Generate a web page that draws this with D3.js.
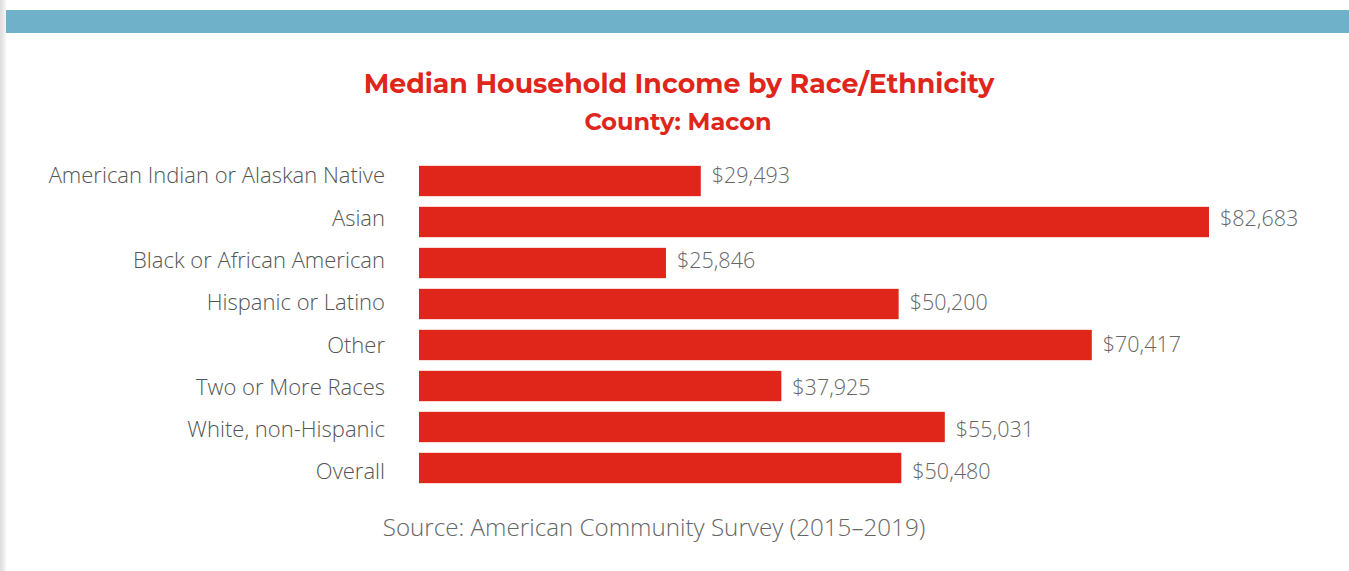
<!DOCTYPE html>
<html><head><meta charset="utf-8">
<script src="https://cdn.jsdelivr.net/npm/d3@7"></script>
<style>html,body{margin:0;padding:0;background:#fff;overflow:hidden}</style>
</head><body><svg id="c" width="1349" height="571"></svg>
<script>
const categories = ["American Indian or Alaskan Native","Asian","Black or African American","Hispanic or Latino","Other","Two or More Races","White, non-Hispanic","Overall"];
const values = [29493,82683,25846,50200,70417,37925,55031,50480];
const title = "Median Household Income by Race/Ethnicity";
const subtitle = "County: Macon";
const source = "Source: American Community Survey (2015–2019)";

const svg = d3.select("#c");
const defs = svg.append("defs");
const g1 = defs.append("linearGradient").attr("id","sh").attr("x1","0").attr("x2","1");
g1.append("stop").attr("offset","0").attr("stop-color","#dcdcdc");
g1.append("stop").attr("offset","1").attr("stop-color","#f6f6f6");
svg.append("rect").attr("x",0).attr("y",0).attr("width",6).attr("height",571).attr("fill","url(#sh)");
svg.append("rect").attr("x",6).attr("y",10).attr("width",1343).attr("height",23).attr("fill","#6fb1c8");

svg.append("text").attr("x",679).attr("y",93).attr("text-anchor","middle")
  .attr("font-family","Montserrat, 'Noto Sans', sans-serif").attr("font-weight","bold").attr("font-size",26.8)
  .attr("fill","#e0261b").text(title);
svg.append("text").attr("x",678).attr("y",130).attr("text-anchor","middle")
  .attr("font-family","Montserrat, 'Noto Sans', sans-serif").attr("font-weight","bold").attr("font-size",24)
  .attr("fill","#e0261b").text(subtitle);

const x = d3.scaleLinear().domain([0, d3.max(values)]).range([419, 1209]);
const y = d3.scaleBand().domain(categories).range([160.5, 488.5]).paddingInner(0.26).paddingOuter(0.13);
const yl = d3.scalePoint().domain(categories).range([175.5, 471.5]);

const data = categories.map((c,i)=>({c, v: values[i]}));
svg.selectAll("rect.bar").data(data).join("rect").attr("class","bar")
  .attr("x", x(0)).attr("y", d=>y(d.c)).attr("width", d=>x(d.v)-x(0)).attr("height", y.bandwidth())
  .attr("fill","#e0261b");

const fmt = d3.format(",");
svg.selectAll("text.val").data(data).join("text").attr("class","val")
  .attr("x", d=>x(d.v)+11).attr("y", d=>yl(d.c)).attr("dy","0.36em")
  .attr("font-family","'Open Sans', sans-serif").attr("font-weight",300).attr("font-size",21.5)
  .attr("fill","#666").text(d=>"$"+fmt(d.v));

svg.selectAll("text.cat").data(data).join("text").attr("class","cat")
  .attr("x", 385).attr("y", d=>yl(d.c)).attr("dy","0.36em").attr("text-anchor","end")
  .attr("font-family","'Open Sans', sans-serif").attr("font-weight",300).attr("font-size",22)
  .attr("fill","#555").text(d=>d.c);

svg.append("text").attr("x",654).attr("y",536).attr("text-anchor","middle")
  .attr("font-family","'Open Sans', sans-serif").attr("font-weight",300).attr("font-size",24.2)
  .attr("fill","#666").text(source);
</script></body></html>
